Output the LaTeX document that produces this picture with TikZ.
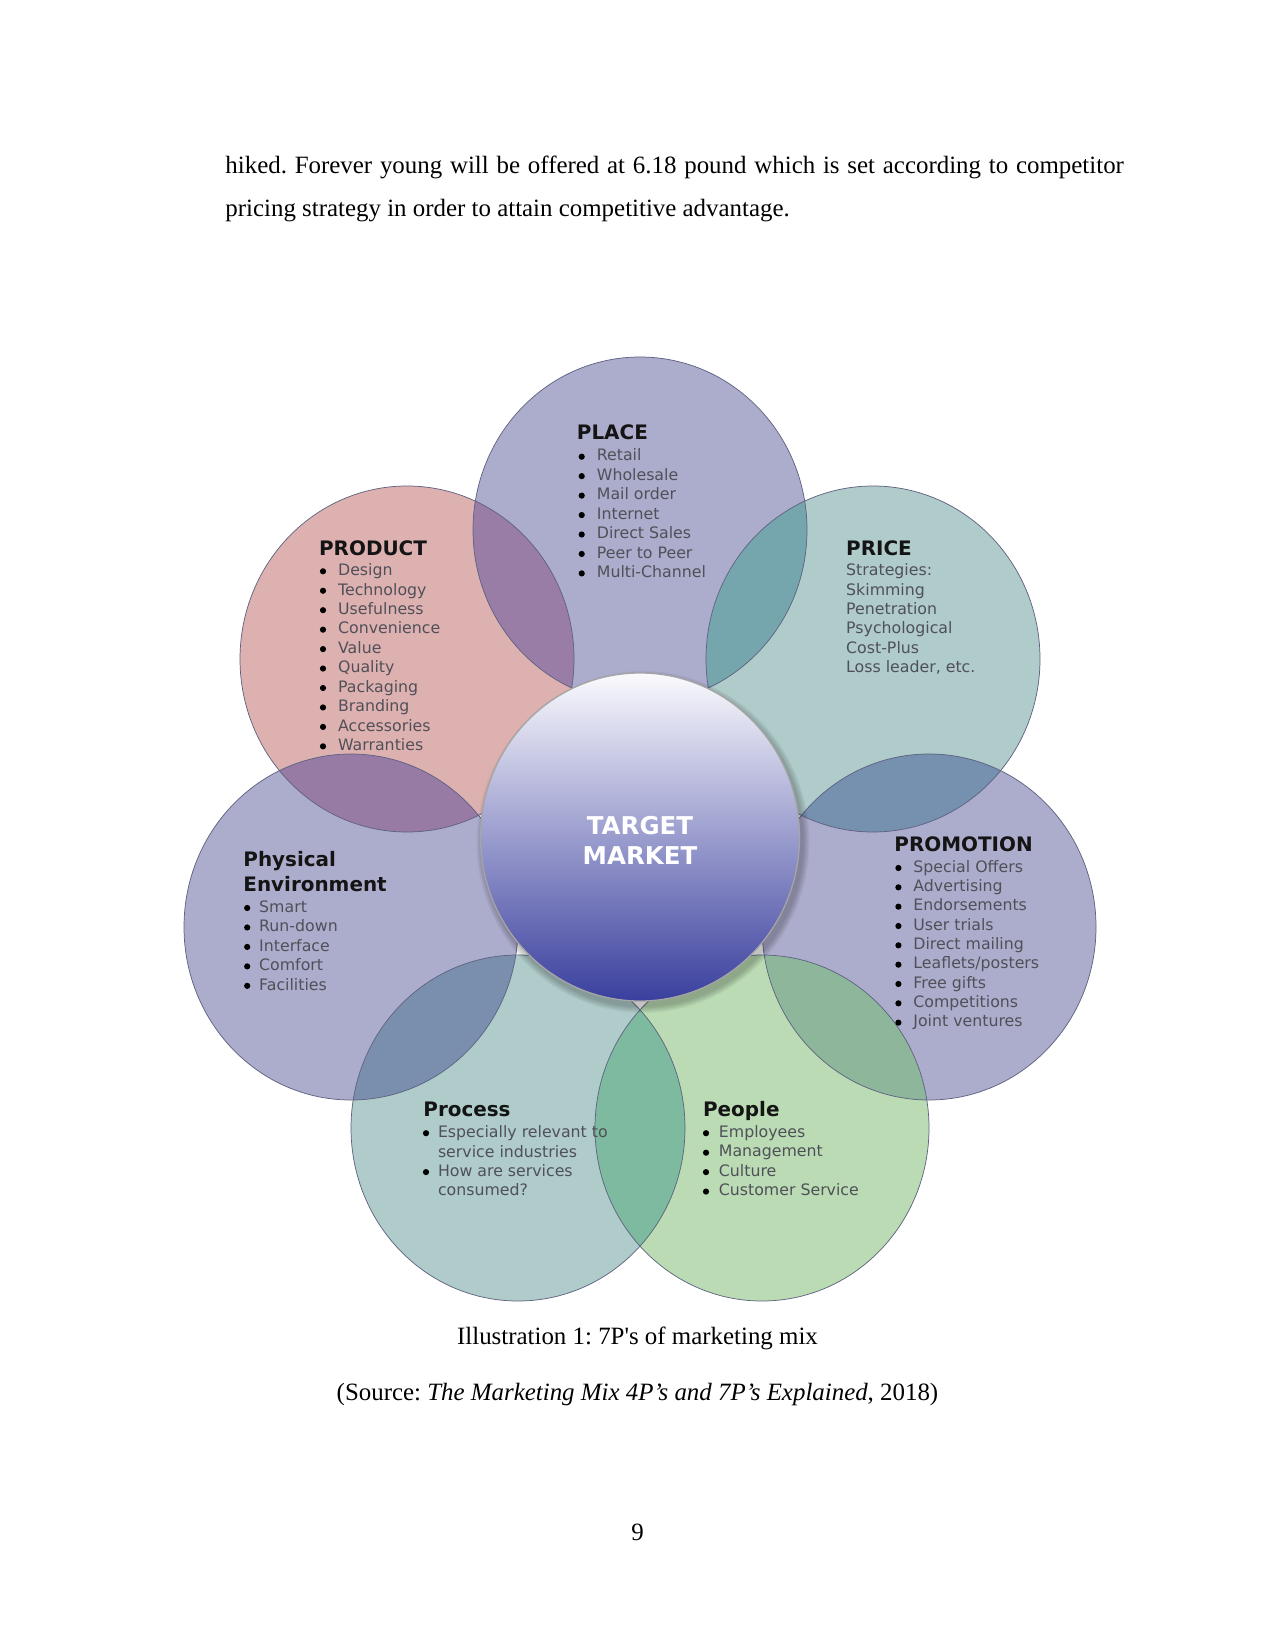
\documentclass[tikz,border=0pt]{standalone}
\usepackage{fontspec}
\setmainfont{Liberation Serif}
\newfontfamily\diagfont{DejaVu Sans}
\definecolor{fillProduct}{HTML}{DEB1B1}
\definecolor{fillLav}{HTML}{ACACCC}
\definecolor{fillTeal}{HTML}{AFCBCA}
\definecolor{fillGreen}{HTML}{BADBB4}
\definecolor{lensA}{HTML}{9A7DA6}
\definecolor{lensB}{HTML}{75A6AD}
\definecolor{lensC}{HTML}{7690B0}
\definecolor{lensD}{HTML}{8DB69B}
\definecolor{lensE}{HTML}{7DBA9F}
\definecolor{lensF}{HTML}{7A8FAE}
\definecolor{lensG}{HTML}{987BA5}
\definecolor{rimcol}{HTML}{5F6280}
\definecolor{itemgray}{HTML}{505058}
\definecolor{tTop}{HTML}{FAFAFD}
\definecolor{tMid}{HTML}{A4A7DC}
\definecolor{tBot}{HTML}{3A3F9E}
\newcommand\RX{167}
\newcommand\RY{173}
\newcommand\mylens[3]{\begin{scope}\clip (#1) ellipse [x radius=\RX, y radius=\RY];
  \fill[#3] (#2) ellipse [x radius=\RX, y radius=\RY];\end{scope}}
\frenchspacing
\begin{document}
\begin{tikzpicture}[x=0.4818pt,y=-0.4818pt,
  ptitle/.style={font=\diagfont\bfseries\fontsize{9.6}{11}\selectfont, text=black!92, anchor=base west, inner sep=0},
  pitem/.style={font=\diagfont\fontsize{7.6}{9}\selectfont, text=itemgray, anchor=base west, inner sep=0},
  body/.style={font=\fontsize{12}{14}\selectfont, anchor=base west, inner sep=0},
  rim/.style={draw=rimcol, line width=0.35pt},
  ttext/.style={font=\diagfont\bfseries\fontsize{11.8}{14}\selectfont, text=white, anchor=base, inner sep=0}
]
\useasboundingbox[fill=white] (0,0) rectangle (1275,1650);

% body text
\node[body] (line1) at (225,174) {\makebox[432.9pt][s]{hiked. Forever young will be offered at 6.18 pound which is set according to competitor}};
\node[body] (line2) at (225,217) {pricing strategy in order to attain competitive advantage.};

% circle centres
\coordinate (cPlace) at (640,530);
\coordinate (cProduct) at (407,659);
\coordinate (cPrice) at (873,659);
\coordinate (cPromo) at (929,927);
\coordinate (cPhys) at (351,927);
\coordinate (cProcess) at (518,1128);
\coordinate (cPeople) at (762,1128);
\coordinate (cTarget) at (640,837);

% fills
\fill[fillProduct] (cProduct) ellipse [x radius=\RX, y radius=\RY];
\fill[fillLav] (cPlace) ellipse [x radius=\RX, y radius=\RY];
\fill[fillTeal] (cPrice) ellipse [x radius=\RX, y radius=\RY];
\fill[fillLav] (cPromo) ellipse [x radius=\RX, y radius=\RY];
\fill[fillLav] (cPhys) ellipse [x radius=\RX, y radius=\RY];
\fill[fillTeal] (cProcess) ellipse [x radius=\RX, y radius=\RY];
\fill[fillGreen] (cPeople) ellipse [x radius=\RX, y radius=\RY];

% overlaps
\mylens{cProduct}{cPlace}{lensA}
\mylens{cPlace}{cPrice}{lensB}
\mylens{cPrice}{cPromo}{lensC}
\mylens{cPromo}{cPeople}{lensD}
\mylens{cPeople}{cProcess}{lensE}
\mylens{cProcess}{cPhys}{lensF}
\mylens{cPhys}{cProduct}{lensG}

% outlines
\foreach \c in {cProduct,cPlace,cPrice,cPromo,cPhys,cProcess,cPeople}
  \draw[rim] (\c) ellipse [x radius=\RX, y radius=\RY];

% target market shadow
\foreach \k in {1,...,7}
  \fill[black, opacity=0.035] ([shift={(3,5)}]cTarget) ellipse [x radius={159.5+\k}, y radius={164+\k}];
\shade[top color=tTop, middle color=tMid, bottom color=tBot] (cTarget) ellipse [x radius=159.5, y radius=164];
\draw[draw=gray!70, line width=0.6pt] (cTarget) ellipse [x radius=159.5, y radius=164];
\node[ttext] (tm1) at (640,834) {TARGET};
\node[ttext] (tm2) at (640,864.5) {MARKET};

% PLACE
\node[ptitle] (placeT) at (576.5,440) {PLACE};
\foreach \t [count=\i from 0] in {Retail,Wholesale,Mail order,Internet,Direct Sales,Peer to Peer,Multi-Channel}{
  \node[pitem] (place\i) at (596.5,{461+19.45*\i}) {\t};
  \fill[black] (581.7,{461+19.45*\i-4.3}) circle [radius=3.1];
}

% PRODUCT
\node[ptitle] (prodT) at (318.7,555) {PRODUCT};
\foreach \t [count=\i from 0] in {Design,Technology,Usefulness,Convenience,Value,Quality,Packaging,Branding,Accessories,Warranties}{
  \node[pitem] (prod\i) at (337.7,{575.6+19.45*\i}) {\t};
  \fill[black] (323,{575.6+19.45*\i-4.3}) circle [radius=3.1];
}

% PRICE
\node[ptitle] (priceT) at (845.8,555) {PRICE};
\foreach \t [count=\i from 0] in {Strategies:,Skimming,Penetration,Psychological,Cost-Plus,{Loss leader, etc.}}{
  \node[pitem] (price\i) at (845.8,{575.6+19.45*\i}) {\t};
}

% PROMOTION
\node[ptitle] (promoT) at (894,851.6) {PROMOTION};
\foreach \t [count=\i from 0] in {Special Offers,Advertising,Endorsements,User trials,Direct mailing,Leaflets/posters,Free gifts,Competitions,Joint ventures}{
  \node[pitem] (promo\i) at (913,{872.3+19.33*\i}) {\t};
  \fill[black] (898.4,{872.3+19.33*\i-4.3}) circle [radius=3.1];
}

% PHYSICAL ENVIRONMENT
\node[ptitle] (physT1) at (243,866) {Physical};
\node[ptitle] (physT2) at (243,891.6) {Environment};
\foreach \t [count=\i from 0] in {Smart,Run-down,Interface,Comfort,Facilities}{
  \node[pitem] (phys\i) at (258.8,{912.3+19.46*\i}) {\t};
  \fill[black] (247.2,{912.3+19.46*\i-4.3}) circle [radius=3.1];
}

% PROCESS
\node[ptitle] (procT) at (423,1116.8) {Process};
\node[pitem] (proc0) at (437.6,1137.5) {Especially relevant to};
\node[pitem] (proc1) at (437.6,1157) {service industries};
\node[pitem] (proc2) at (437.6,1176.4) {How are services};
\node[pitem] (proc3) at (437.6,1195.9) {consumed?};
\fill[black] (426,1133.2) circle [radius=3.1];
\fill[black] (426,1172.1) circle [radius=3.1];

% PEOPLE
\node[ptitle] (peopT) at (702.7,1116.8) {People};
\foreach \t [count=\i from 0] in {Employees,Management,Culture,Customer Service}{
  \node[pitem] (peop\i) at (718.5,{1137.5+19.46*\i}) {\t};
  \fill[black] (706,{1137.5+19.46*\i-4.3}) circle [radius=3.1];
}

% caption
\node[body, anchor=base] (cap) at (637.5,1344) {Illustration 1: 7P\textquotesingle s of marketing mix};
\node[body, anchor=base] (src) at (637.5,1400) {(Source: \textit{The Marketing Mix 4P’s and 7P’s Explained}, 2018)};
\node[body, anchor=base] (pg) at (637.5,1540) {9};
\end{tikzpicture}
\end{document}
